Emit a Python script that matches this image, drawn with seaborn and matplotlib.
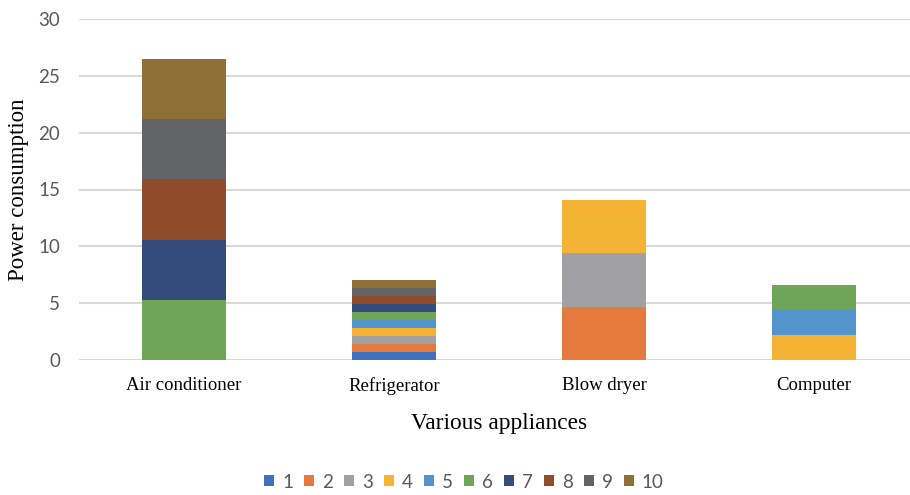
import matplotlib
matplotlib.use("Agg")
import matplotlib.pyplot as plt
from matplotlib.patches import Patch
import numpy as np
import pandas as pd
import seaborn as sns

# Appliances and the ten consumption components stacked on each bar
appliances = ["Air conditioner", "Refrigerator", "Blow dryer", "Computer"]
series_names = ["1", "2", "3", "4", "5", "6", "7", "8", "9", "10"]
s1 = [0.0, 0.7, 0.0, 0.0]
s2 = [0.0, 0.7, 4.7, 0.0]
s3 = [0.0, 0.7, 4.7, 0.0]
s4 = [0.0, 0.7, 4.7, 2.2]
s5 = [0.0, 0.7, 0.0, 2.2]
s6 = [5.3, 0.7, 0.0, 2.2]
s7 = [5.3, 0.7, 0.0, 0.0]
s8 = [5.3, 0.7, 0.0, 0.0]
s9 = [5.3, 0.7, 0.0, 0.0]
s10 = [5.3, 0.7, 0.0, 0.0]
series_values = [s1, s2, s3, s4, s5, s6, s7, s8, s9, s10]
y_ticks = [0, 5, 10, 15, 20, 25, 30]

colors = ["#3F71BF", "#E67A3E", "#A1A1A4", "#F4B335", "#5294CB",
          "#6FA557", "#344C7A", "#904B2D", "#636466", "#8C7036"]

sns.set_theme(style="white")
plt.rcParams["font.family"] = ["Lato", "DejaVu Sans"]

fig = plt.figure(figsize=(9.10, 4.95), dpi=100)
ax = fig.add_axes([79 / 910, 1 - 360 / 495, 840 / 910, (360 - 19) / 495])

df = pd.DataFrame({"appliance": appliances})
bottom = np.zeros(len(appliances))
for name, vals, col in zip(series_names, series_values, colors):
    df[name] = vals
    sns.barplot(data=df, x="appliance", y=name, bottom=bottom, color=col,
                width=0.4, ax=ax, zorder=3, linewidth=0, saturation=1)
    bottom = bottom + np.array(vals)

ax.set_xlim(-0.5, 3.5)
ax.set_ylim(0, 30)
ax.set_yticks(y_ticks)
ax.yaxis.grid(True, color="#D9D9D9", linewidth=1.5, zorder=0)
ax.set_axisbelow(True)
for sp in ax.spines.values():
    sp.set_visible(False)
ax.tick_params(axis="both", length=0)
ax.tick_params(axis="y", labelsize=13.5, labelcolor="#595959", pad=13.5)
ax.tick_params(axis="x", pad=12.5)
for lbl in ax.get_xticklabels():
    lbl.set_fontfamily("Liberation Serif")
    lbl.set_fontsize(13.5)
    lbl.set_color("#000000")

ax.set_xlabel("Various appliances", family="Liberation Serif", fontsize=16.8,
              color="#000000", labelpad=13)
ax.set_ylabel("Power consumption", family="Liberation Serif", fontsize=16.5,
              color="#000000")
ax.yaxis.set_label_coords(-50 / 840, (360 - 190) / 341)

handles = [Patch(facecolor=c, edgecolor="none") for c in colors]
fig.legend(handles, series_names, loc="center", bbox_to_anchor=(464 / 910, 1 - 482 / 495),
           ncol=10, frameon=False, fontsize=13.5, labelcolor="#595959",
           handlelength=0.53, handleheight=0.53, handletextpad=0.43,
           columnspacing=0.59, borderaxespad=0, borderpad=0)

fig.savefig("out.png", dpi=100)
